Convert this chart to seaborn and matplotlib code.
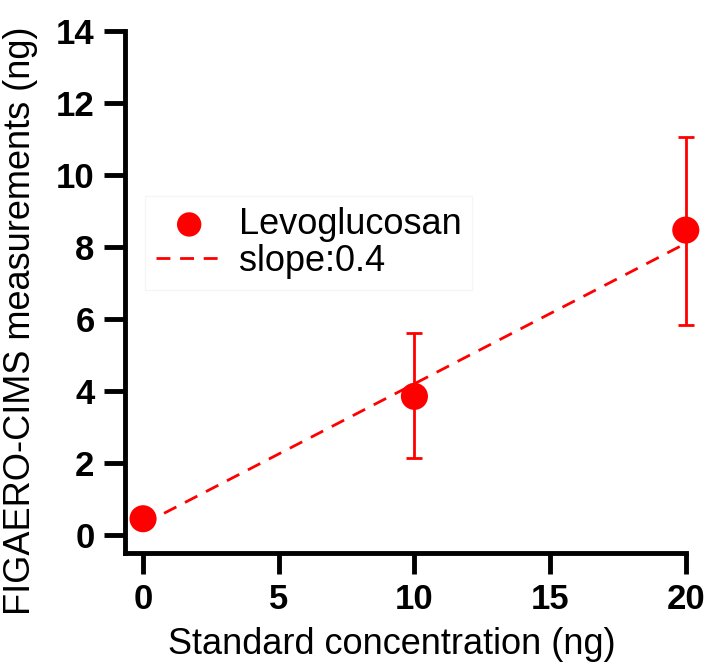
import matplotlib
matplotlib.use("Agg")
import matplotlib.pyplot as plt
import seaborn as sns
import pandas as pd

conc = [0, 10, 20]
meas = [0.45, 3.85, 8.47]
err_low = [0.45, 2.14, 5.83]
err_high = [0.45, 5.6, 11.06]
fit_x = [0, 20]
fit_y = [0.3, 8.1]
xticks = [0, 5, 10, 15, 20]
yticks = [0, 2, 4, 6, 8, 10, 12, 14]

sns.set_style("ticks")
plt.rcParams['font.family'] = ['Liberation Sans', 'DejaVu Sans']
plt.rcParams['text.color'] = 'black'
plt.rcParams['axes.labelcolor'] = 'black'
plt.rcParams['xtick.color'] = 'black'
plt.rcParams['ytick.color'] = 'black'
plt.rcParams['axes.edgecolor'] = 'black'

fig = plt.figure(figsize=(7.07, 6.67), dpi=100)
ax = fig.add_axes([0.177, 0.171, 0.793, 0.7825])

df = pd.DataFrame({"x": conc, "y": meas})
fit = pd.DataFrame({"x": fit_x, "y": fit_y})

yerr = [[m - lo for m, lo in zip(meas, err_low)], [hi - m for m, hi in zip(meas, err_high)]]
eb = ax.errorbar(conc, meas, yerr=yerr, fmt="none", ecolor="#ff0000", elinewidth=2,
                 capsize=6, capthick=2, zorder=2)
for art in eb.lines[1] + eb.lines[2]:
    art.set_clip_on(False)
sns.lineplot(data=fit, x="x", y="y", ax=ax, color="#ff0000", linestyle=(0, (5, 3.5)),
             linewidth=2, label="slope:0.4", zorder=3)
sns.scatterplot(data=df, x="x", y="y", ax=ax, color="#ff0000", s=380, edgecolor="none",
                label="Levoglucosan", zorder=4, clip_on=False)

ax.set_xlim(-0.66, 20)
ax.set_ylim(-0.5, 14)
ax.set_xticks(xticks)
ax.set_yticks(yticks)
ax.set_xticklabels([str(t) for t in xticks], fontsize=25, fontweight="bold")
ax.set_yticklabels([str(t) for t in yticks], fontsize=25, fontweight="bold")
ax.tick_params(axis="both", length=15, width=3.5, direction="out", pad=7)
for s in ["left", "bottom"]:
    ax.spines[s].set_linewidth(3.5)
for s in ["top", "right"]:
    ax.spines[s].set_visible(False)
ax.set_xlabel("Standard concentration (ng)", fontsize=26)
ax.set_ylabel("FIGAERO-CIMS measurements (ng)", fontsize=26)
ax.xaxis.set_label_coords(0.476, -0.142)
ax.yaxis.set_label_coords(-0.155, 0.444)

h, l = ax.get_legend_handles_labels()
order = [l.index("Levoglucosan"), l.index("slope:0.4")]
leg = ax.legend([h[i] for i in order], [l[i] for i in order], loc="upper left",
                bbox_to_anchor=(0.205, 0.706), bbox_transform=fig.transFigure,
                fontsize=26, frameon=True, fancybox=False, edgecolor="#f3f3f3",
                handlelength=1.85, handletextpad=0.45, labelspacing=0.05, borderpad=0.3,
                borderaxespad=0, markerscale=0.9)
leg.get_frame().set_linewidth(1)

fig.savefig("out.png", dpi=100)
